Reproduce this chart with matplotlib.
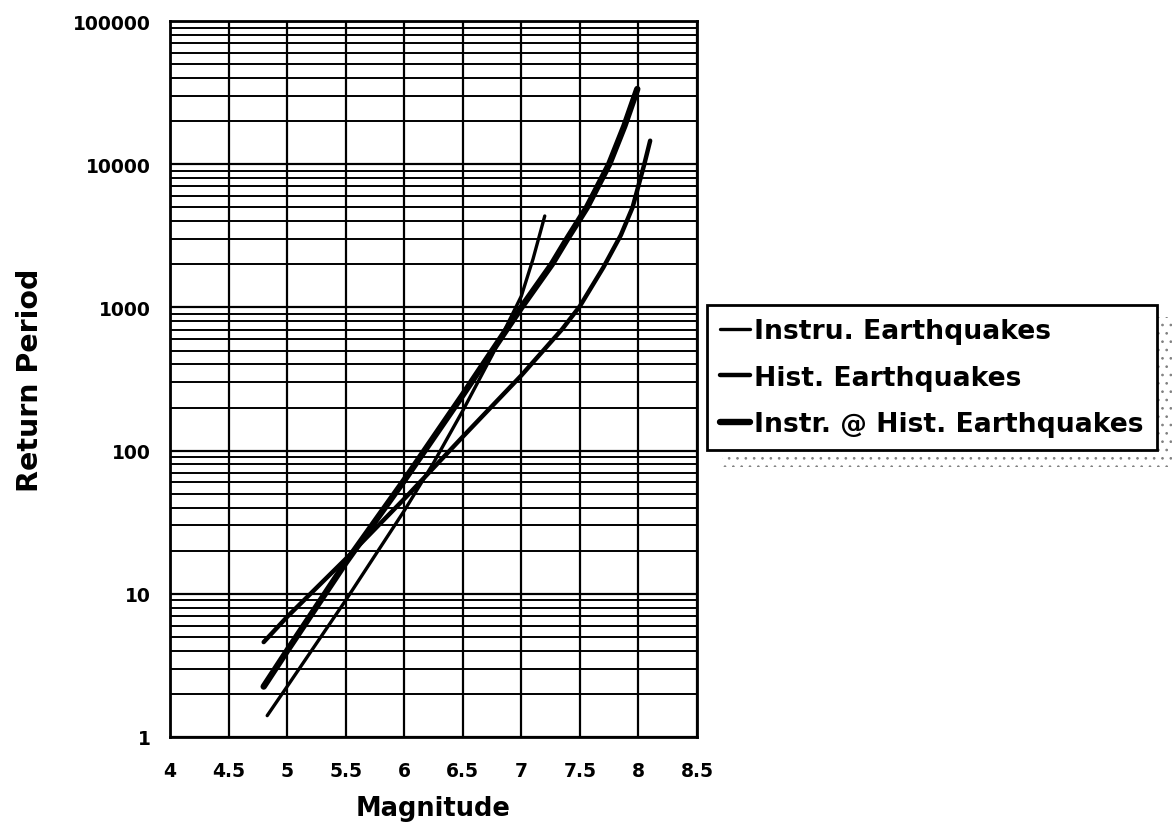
import matplotlib
matplotlib.use('Agg')
import matplotlib.pyplot as plt
import numpy as np
from matplotlib.patches import Rectangle
from matplotlib.ticker import FixedLocator, LogLocator, NullFormatter

plt.rcParams['font.family'] = ['DejaVu Sans']
plt.rcParams['font.weight'] = 'bold'
plt.rcParams['hatch.linewidth'] = 0.7

# values
instru_mag = [4.83, 5.0, 5.5, 6.0, 6.25, 6.5, 6.75, 7.0, 7.1, 7.2]
instru_rp = [1.41, 2.25, 9.0, 38, 82, 190, 463, 1200, 2180, 4350]

hist_mag = [4.8, 5.0, 5.5, 6.0, 6.5, 7.0, 7.35, 7.5, 7.7, 7.85, 7.95, 8.05, 8.1]
hist_rp = [4.6, 6.9, 17.5, 46, 125, 335, 707, 1020, 1900, 3200, 5000, 10000, 14600]

both_mag = [4.8, 5.0, 5.5, 6.0, 6.5, 7.0, 7.26, 7.39, 7.56, 7.75, 7.88, 7.99]
both_rp = [2.25, 4.0, 16.5, 62, 245, 1000, 2000, 3000, 5000, 10000, 18500, 33500]

x_ticks = [4, 4.5, 5, 5.5, 6, 6.5, 7, 7.5, 8, 8.5]
x_labels = ['4', '4.5', '5', '5.5', '6', '6.5', '7', '7.5', '8', '8.5']
y_ticks = [1, 10, 100, 1000, 10000, 100000]
y_labels = ['1', '10', '100', '1000', '10000', '100000']

fig = plt.figure(figsize=(11.74, 8.28), dpi=100)
ax = fig.add_axes([0.1448, 0.1087, 0.4489, 0.8647])

ax.set_yscale('log')
ax.set_xlim(4, 8.5)
ax.set_ylim(1, 100000)

ax.plot(instru_mag, instru_rp, color='black', lw=2.4, solid_capstyle='round',
        solid_joinstyle='round', label='Instru. Earthquakes', zorder=3)
ax.plot(hist_mag, hist_rp, color='black', lw=3.2, solid_capstyle='round',
        solid_joinstyle='round', label='Hist. Earthquakes', zorder=3)
ax.plot(both_mag, both_rp, color='black', lw=4.6, solid_capstyle='round',
        solid_joinstyle='round', label='Instr. @ Hist. Earthquakes', zorder=3)

ax.xaxis.set_major_locator(FixedLocator(x_ticks))
ax.set_xticklabels(x_labels)
ax.yaxis.set_major_locator(FixedLocator(y_ticks))
ax.set_yticklabels(y_labels)
ax.yaxis.set_minor_locator(LogLocator(base=10, subs=np.arange(2, 10)))
ax.yaxis.set_minor_formatter(NullFormatter())

ax.grid(True, which='major', axis='both', color='black', lw=1.6)
ax.grid(True, which='minor', axis='y', color='black', lw=1.4)
ax.set_axisbelow(True)

ax.tick_params(axis='both', which='both', length=0, labelsize=13.5)
ax.tick_params(axis='x', pad=17)
ax.tick_params(axis='y', pad=14)
for s in ax.spines.values():
    s.set_linewidth(2)
    s.set_color('black')

ax.set_xlabel('Magnitude', fontsize=18.5, fontweight='bold', labelpad=11)
ax.set_ylabel('Return Period', fontsize=20.5, fontweight='bold', labelpad=21)

leg = ax.legend(loc='upper left', bbox_to_anchor=(707 / 1174, 1 - 306 / 828),
                bbox_transform=fig.transFigure, borderaxespad=0,
                fontsize=19.2, frameon=True, fancybox=False, handlelength=1.1,
                handletextpad=0.15, labelspacing=0.76, borderpad=0.5)
leg.get_frame().set_edgecolor('black')
leg.get_frame().set_linewidth(2)
leg.get_frame().set_alpha(1)
for t in leg.get_texts():
    t.set_fontweight('bold')

# dotted shadow behind the legend box
shadow = Rectangle((722 / 1174, 1 - 468 / 828), 450 / 1174, 150 / 828,
                   transform=fig.transFigure, facecolor='white',
                   edgecolor='0.5', hatch='..', lw=0, zorder=-1)
fig.patches.append(shadow)

fig.savefig('out.png', dpi=100)
